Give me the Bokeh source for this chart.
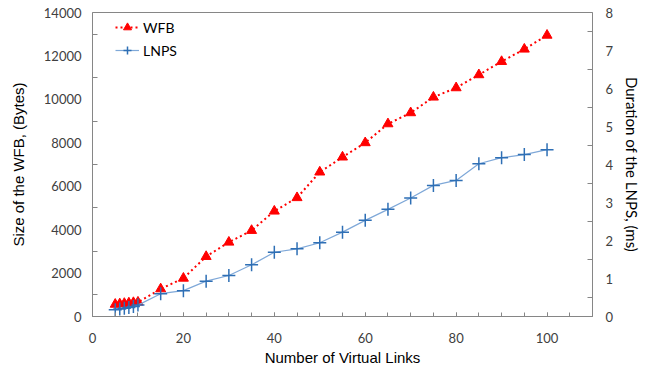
from bokeh.plotting import figure
from bokeh.models import Range1d, LinearAxis, Legend, LegendItem, FixedTicker
from bokeh.embed import file_html
from bokeh.resources import INLINE

links = [5, 6, 7, 8, 9, 10, 15, 20, 25, 30, 35, 40, 45, 50, 55, 60, 65, 70, 75, 80, 85, 90, 95, 100]
wfb_bytes = [560, 580, 600, 620, 640, 660, 1270, 1760, 2760, 3420, 3960, 4850, 5470, 6650,
             7340, 8000, 8870, 9380, 10100, 10530, 11130, 11740, 12310, 12950]
lnps_ms = [0.18, 0.2, 0.22, 0.24, 0.26, 0.3, 0.6, 0.68, 0.93, 1.08, 1.36, 1.69, 1.78, 1.94,
           2.22, 2.53, 2.82, 3.12, 3.45, 3.58, 4.02, 4.18, 4.26, 4.39]

x_ticks = [0, 20, 40, 60, 80, 100]
left_ticks = [0, 2000, 4000, 6000, 8000, 10000, 12000, 14000]
right_ticks = [0, 1, 2, 3, 4, 5, 6, 7, 8]

AX = "#868686"
TXT = "#404040"

p = figure(width=656, height=370, output_backend="svg", toolbar_location=None,
           x_range=Range1d(0, 110), y_range=Range1d(0, 14000),
           min_border_left=92, min_border_right=64, min_border_top=12, min_border_bottom=54)
p.extra_y_ranges = {"ms": Range1d(0, 8)}
p.xgrid.visible = False
p.ygrid.visible = False
p.outline_line_color = AX
p.outline_line_width = 1

# x axis
xa = p.xaxis[0]
xa.ticker = FixedTicker(ticks=x_ticks, minor_ticks=list(range(0, 111, 5)))
xa.axis_label = "Number of Virtual Links"
xa.axis_label_text_font = "Liberation Sans"
xa.axis_label_text_font_style = "normal"
xa.axis_label_text_font_size = "15px"
xa.axis_label_text_color = "#000000"
xa.axis_label_standoff = 3
xa.major_label_text_font = "Lato"
xa.major_label_text_font_size = "13px"
xa.major_label_text_color = TXT
xa.major_label_standoff = 16
xa.axis_line_color = AX
xa.major_tick_line_color = AX
xa.minor_tick_line_color = AX
xa.major_tick_in = 4
xa.major_tick_out = 0
xa.minor_tick_in = 4
xa.minor_tick_out = 0

# left axis
ya = p.yaxis[0]
ya.ticker = FixedTicker(ticks=left_ticks, minor_ticks=list(range(1000, 14000, 2000)))
ya.axis_label = "Size of the WFB, (Bytes)"
ya.axis_label_text_font = "Liberation Sans"
ya.axis_label_text_font_style = "normal"
ya.axis_label_text_font_size = "15px"
ya.axis_label_text_color = "#000000"
ya.axis_label_standoff = 14
ya.major_label_text_font = "Lato"
ya.major_label_text_font_size = "13px"
ya.major_label_text_color = TXT
ya.major_label_standoff = 11
ya.axis_line_color = AX
ya.major_tick_line_color = None
ya.minor_tick_line_color = AX
ya.major_tick_in = 0
ya.major_tick_out = 0
ya.minor_tick_in = 5
ya.minor_tick_out = 0

# right axis
ra = LinearAxis(y_range_name="ms")
ra.ticker = FixedTicker(ticks=right_ticks, minor_ticks=[0.5, 1.5, 2.5, 3.5, 4.5, 5.5, 6.5, 7.5])
ra.axis_label = "Duration of the LNPS, (ms)"
ra.axis_label_text_font = "Lato"
ra.axis_label_text_font_style = "normal"
ra.axis_label_text_font_size = "15px"
ra.axis_label_text_color = "#000000"
ra.axis_label_standoff = 7
ra.major_label_text_font = "Lato"
ra.major_label_text_font_size = "13px"
ra.major_label_text_color = TXT
ra.major_label_standoff = 13
ra.axis_line_color = AX
ra.major_tick_line_color = None
ra.minor_tick_line_color = AX
ra.major_tick_in = 0
ra.major_tick_out = 0
ra.minor_tick_in = 5
ra.minor_tick_out = 0
p.add_layout(ra, "right")

RED = "#ff0000"
BLUE_L = "#7fa8d8"
BLUE_M = "#2e6fb5"

w_line = p.line(links, wfb_bytes, line_color=RED, line_width=2, line_dash="2 3")
w_mark = p.scatter(links, wfb_bytes, marker="triangle", size=10, fill_color=RED, line_color=RED)
l_line = p.line(links, lnps_ms, line_color=BLUE_L, line_width=1.2, y_range_name="ms")
l_mark = p.scatter(links, lnps_ms, marker="cross", size=13, line_color=BLUE_M, line_width=1.5,
                   y_range_name="ms")

legend = Legend(items=[LegendItem(label="WFB", renderers=[w_line, w_mark]),
                       LegendItem(label="LNPS", renderers=[l_line, l_mark])],
                location=(23, 256), padding=0, margin=0, spacing=3,
                label_height=20, glyph_height=20, glyph_width=24, label_standoff=4,
                label_text_font="Lato", label_text_font_size="14px", label_text_color="#000000",
                background_fill_alpha=0, border_line_color=None)
p.add_layout(legend, "center")

open("out.html", "w").write(file_html(p, INLINE))
